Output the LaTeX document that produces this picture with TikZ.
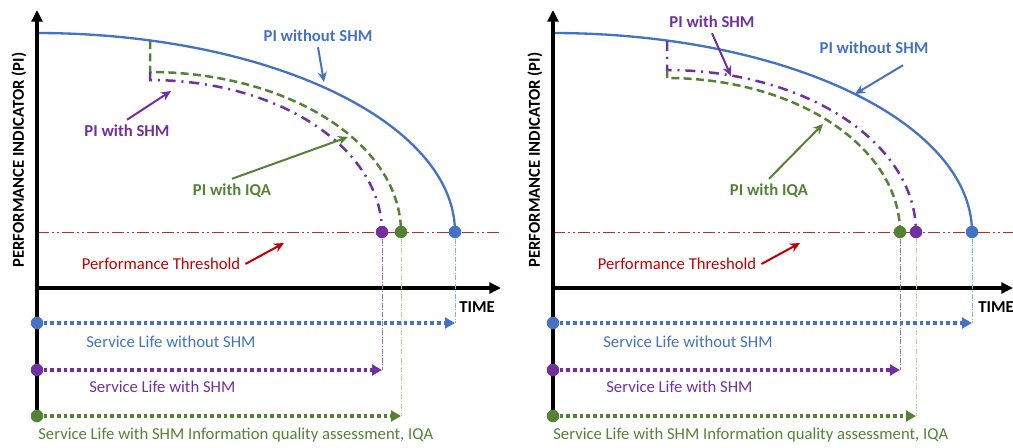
\documentclass[tikz,border=0pt]{standalone}
\usepackage{fontspec}
\setmainfont{Carlito}
\usetikzlibrary{arrows.meta,positioning,calc}
\definecolor{LifeBlue}{HTML}{4472C4}
\definecolor{ShmPurple}{HTML}{7030A0}
\definecolor{IqaGreen}{HTML}{548235}
\definecolor{LimitRed}{HTML}{C00000}
\tikzset{
  axis/.style={line width=1.9pt,-{Triangle[length=7pt,width=6.5pt]}},
  lbl/.style={inner sep=3pt,font=\fontsize{10}{12}\selectfont\bfseries},
  note/.style={inner sep=0pt,font=\fontsize{10}{12}\selectfont},
  dot/.style={circle,inner sep=0pt,minimum size=7.5pt},
  ptr/.style={line width=1.2pt,-{Stealth[length=6pt,width=5.5pt]}},
  life/.style={line width=2.4pt,dash pattern=on 2.2pt off 1.8pt,-{Triangle[length=6pt,width=6.5pt]}},
  drop/.style={line width=0.5pt,dash pattern=on 3pt off 1pt on 0.5pt off 1pt},
  limit/.style={LimitRed!85,line width=0.6pt,dash pattern=on 7pt off 2pt on 1pt off 2pt on 1pt off 2pt},
  piB/.style={LifeBlue,line width=1.4pt},
  piS/.style={ShmPurple,line width=1.5pt,dash pattern=on 6pt off 3.5pt on 1.2pt off 3.5pt},
  piQ/.style={IqaGreen,line width=1.5pt,dash pattern=on 4.8pt off 2.6pt}
}
\begin{document}
\begin{tikzpicture}[x=0.6pt,y=-0.6pt]
\useasboundingbox (0,0) rectangle (1013,448);

% left: SHM curve ends before the IQA curve
\begin{scope}
  \draw[limit] (37,232) -- (500,232);
  \draw[piB] plot[domain=90:0,samples=60] ({37+418*cos(\x)},{232-199*sin(\x)});
  \draw[piQ] (150,41) -- plot[domain=90:0,samples=50] ({150+251*cos(\x)},{232-160*sin(\x)});
  \draw[piS] (150,72) -- plot[domain=90:0,samples=50] ({150+232*cos(\x)},{232-152*sin(\x)});

  \draw[axis] (37,416) -- (37,10);
  \draw[axis] (37,288) -- (501,288);
  \node[lbl,anchor=west] (tAx) at (454,307) {TIME};
  \node[lbl,rotate=90] (yAx) at (19,160) {PERFORMANCE INDICATOR (PI)};

  \node[dot,fill=LifeBlue] (bEnd) at (455,232) {};
  \node[dot,fill=IqaGreen] (qEnd) at (401,232) {};
  \node[dot,fill=ShmPurple] (sEnd) at (382,232) {};
  \node[dot,fill=LifeBlue] (bStart) at (37,323) {};
  \node[dot,fill=ShmPurple] (sStart) at (37,370) {};
  \node[dot,fill=IqaGreen] (qStart) at (37,416) {};
  \coordinate (bStop) at (455,323);
  \coordinate (sStop) at (382,370);
  \coordinate (qStop) at (401,416);

  \draw[drop,LifeBlue!60] (bEnd) -- (bStop);
  \draw[drop,ShmPurple!70] (sEnd) -- (sStop);
  \draw[drop,IqaGreen!40] (qEnd) -- (qStop);
  \draw[life,LifeBlue] (bStart) -- (bStop);
  \draw[life,ShmPurple] (sStart) -- (sStop);
  \draw[life,IqaGreen] (qStart) -- (qStop);

  \node[note,LifeBlue,anchor=west] (bNote) at (86,342) {Service Life without SHM};
  \node[note,ShmPurple,anchor=west] (sNote) at (89,387) {Service Life with SHM};
  \node[note,IqaGreen,anchor=west] (qNote) at (38,435) {Service Life with SHM Information quality assessment, IQA};

  \node[lbl,LifeBlue] (bLbl) at (318,36) {PI without SHM};
  \node[lbl,ShmPurple] (sLbl) at (127,131) {PI with SHM};
  \node[lbl,IqaGreen] (qLbl) at (232,191) {PI with IQA};
  \node[note,LimitRed,inner sep=3pt] (tLbl) at (161,264) {Performance Threshold};
  \coordinate (bTip) at (324,82);
  \coordinate (sTip) at (171,91);
  \coordinate (qTip) at (348,137);
  \coordinate (tTip) at (284,243);
  \draw[ptr,LifeBlue] (bLbl.south) -- (bTip);
  \draw[ptr,ShmPurple] (sLbl.north) -- (sTip);
  \draw[ptr,IqaGreen] (qLbl.north) -- (qTip);
  \draw[ptr,LimitRed] (tLbl.east) -- (tTip);
\end{scope}

% right: IQA curve ends before the SHM curve
\begin{scope}[shift={(516,0)}]
  \draw[limit] (37,232) -- (497,232);
  \draw[piB] plot[domain=90:0,samples=60] ({37+419*cos(\x)},{232-199*sin(\x)});
  \draw[piS] (151,41) -- plot[domain=90:0,samples=50] ({151+249*cos(\x)},{232-162*sin(\x)});
  \draw[piQ] (151,70) -- plot[domain=90:0,samples=50] ({151+233*cos(\x)},{232-154*sin(\x)});

  \draw[axis] (37,416) -- (37,10);
  \draw[axis] (37,288) -- (497,288);
  \node[lbl,anchor=west] (tAx) at (457,307) {TIME};
  \node[lbl,rotate=90] (yAx) at (19,160) {PERFORMANCE INDICATOR (PI)};

  \node[dot,fill=LifeBlue] (bEnd) at (456,232) {};
  \node[dot,fill=ShmPurple] (sEnd) at (400,232) {};
  \node[dot,fill=IqaGreen] (qEnd) at (384,232) {};
  \node[dot,fill=LifeBlue] (bStart) at (37,323) {};
  \node[dot,fill=ShmPurple] (sStart) at (37,370) {};
  \node[dot,fill=IqaGreen] (qStart) at (37,416) {};
  \coordinate (bStop) at (456,323);
  \coordinate (sStop) at (384,370);
  \coordinate (qStop) at (400,416);

  \draw[drop,LifeBlue!60] (bEnd) -- (bStop);
  \draw[drop,ShmPurple!70] (qEnd) -- (sStop);
  \draw[drop,IqaGreen!40] (sEnd) -- (qStop);
  \draw[life,LifeBlue] (bStart) -- (bStop);
  \draw[life,ShmPurple] (sStart) -- (sStop);
  \draw[life,IqaGreen] (qStart) -- (qStop);

  \node[note,LifeBlue,anchor=west] (bNote) at (87,342) {Service Life without SHM};
  \node[note,ShmPurple,anchor=west] (sNote) at (90,387) {Service Life with SHM};
  \node[note,IqaGreen,anchor=west] (qNote) at (37,435) {Service Life with SHM Information quality assessment, IQA};

  \node[lbl,ShmPurple] (sLbl) at (196,22) {PI with SHM};
  \node[lbl,LifeBlue] (bLbl) at (358,48) {PI without SHM};
  \node[lbl,IqaGreen] (qLbl) at (253,191) {PI with IQA};
  \node[note,LimitRed,inner sep=3pt] (tLbl) at (161,264) {Performance Threshold};
  \coordinate (sTip) at (215,76);
  \coordinate (bTip) at (339,94);
  \coordinate (qTip) at (307,124);
  \coordinate (tTip) at (284,243);
  \draw[ptr,ShmPurple] (sLbl.south) -- (sTip);
  \draw[ptr,LifeBlue] ($(bLbl.south)+(29,6)$) -- (bTip);
  \draw[ptr,IqaGreen] (qLbl.north) -- (qTip);
  \draw[ptr,LimitRed] (tLbl.east) -- (tTip);
\end{scope}
\end{tikzpicture}
\end{document}
